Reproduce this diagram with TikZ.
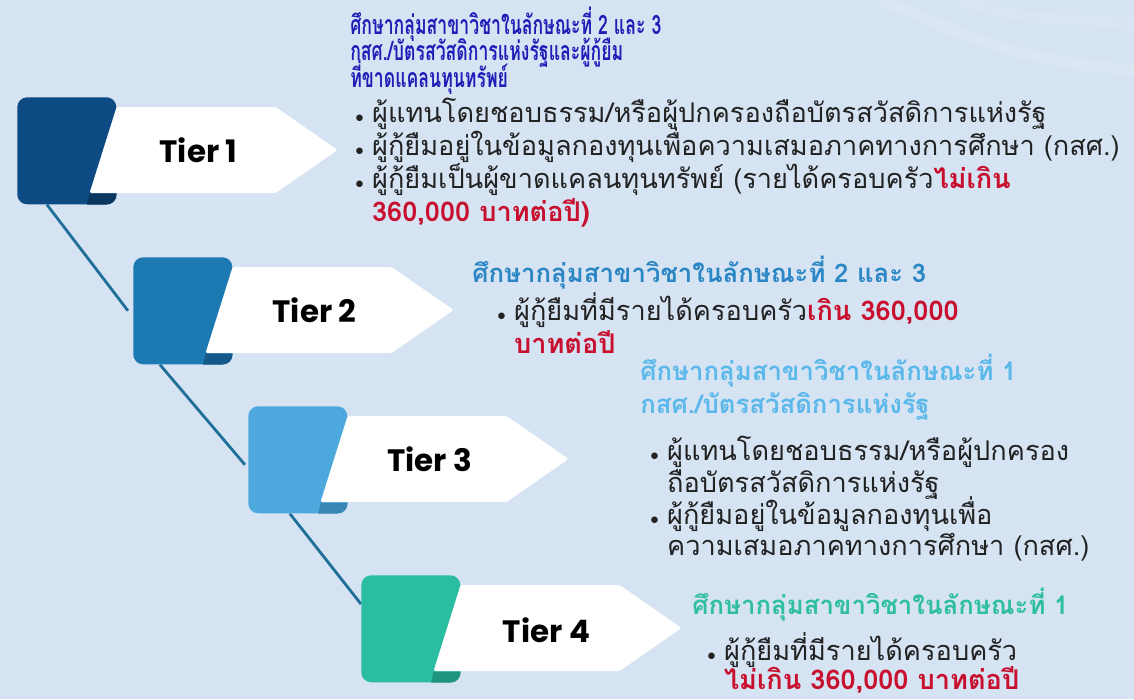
\documentclass[tikz,border=0pt]{standalone}
\usepackage{fontspec}
\usetikzlibrary{calc,positioning}

\newfontfamily\thaifont[Script=Thai]{Loma}
\newfontfamily\thaicond[Script=Thai,FakeStretch=0.66]{Loma}
\newfontfamily\tierfont{Poppins}

\definecolor{bgblue}{HTML}{D5E3F3}
\definecolor{sqA}{HTML}{0E4A84}
\definecolor{sqAdk}{HTML}{0A365F}
\definecolor{sqB}{HTML}{1C79B2}
\definecolor{sqBdk}{HTML}{15598A}
\definecolor{sqC}{HTML}{4DA8DE}
\definecolor{sqCdk}{HTML}{3A87B6}
\definecolor{sqD}{HTML}{2BBDA2}
\definecolor{sqDdk}{HTML}{1E9580}
\definecolor{linecol}{HTML}{1F6F99}
\definecolor{headA}{HTML}{1F1FB8}
\definecolor{headB}{HTML}{2B86C4}
\definecolor{headC}{HTML}{5BB8EA}
\definecolor{headD}{HTML}{2FBF9F}
\definecolor{redT}{HTML}{C8102E}
\definecolor{bodyT}{HTML}{222222}

\newcommand\bul{\makebox[0.62em][l]{\fontsize{12}{12}\selectfont$\bullet$}}
\newcommand\hang{\hspace*{0.62em}}
\newcommand\hl[1]{\textcolor{redT}{\bfseries #1}}
\newcommand\tightlines{\setlength{\lineskiplimit}{-30pt}}

\pgfdeclarelayer{bg}
\pgfdeclarelayer{lines}
\pgfsetlayers{bg,lines,main}

\tikzset{
  tiersq/.style={rounded corners=7pt, minimum width=2.475cm, minimum height=2.675cm,
    inner sep=0, anchor=north west},
  tierlabel/.style={font=\tierfont\bfseries\fontsize{22}{26}\selectfont, text=black},
  heading/.style={anchor=north west, align=left, inner sep=0,
    font=\thaifont\bfseries\fontsize{18.3}{23.4}\selectfont\tightlines},
  headcond/.style={anchor=north west, align=left, inner sep=0,
    font=\thaicond\bfseries\fontsize{19}{18.6}\selectfont\tightlines},
  bodytext/.style={anchor=north west, align=left, inner sep=0, text=bodyT,
    font=\thaifont\fontsize{19.3}{23.4}\selectfont\tightlines},
  joint/.style={draw=linecol, line width=2pt},
}

\begin{document}
\begin{tikzpicture}[x=0.025cm, y=-0.025cm]
    \useasboundingbox (0,0) rectangle (1134,699);

    % background
    \begin{pgfonlayer}{bg}
    \fill[bgblue] (0,0) rectangle (1134,699);
    \draw[white, opacity=0.12, line width=8pt] (880,0) .. controls (960,30) and (1000,60) .. (1134,70);
    \draw[white, opacity=0.1, line width=8pt] (960,0) .. controls (1030,25) and (1060,15) .. (1134,25);
    \end{pgfonlayer}

    % tier 1
    \node[tiersq, fill=sqA] (sq1) at (17,97) {};
    \fill[sqAdk] ($(sq1.south east)+(-27,-11)$) -- ++(27,0) -- ++(0,1)
        arc[start angle=0, end angle=90, radius=10] -- ++(-19.5,0) -- cycle;
    \fill[white, rounded corners=1pt] ($(sq1.north east)+(0,10)$) -- ++(159,0) -- ++(62,43)
        -- ++(-62,43) -- ++(-186,0) -- cycle;
    \node[tierlabel] (t1) at ($(sq1.north east)+(82,53)$) {Tier 1};

    % tier 2
    \node[tiersq, fill=sqB] (sq2) at (133,257) {};
    \fill[sqBdk] ($(sq2.south east)+(-27,-11)$) -- ++(27,0) -- ++(0,1)
        arc[start angle=0, end angle=90, radius=10] -- ++(-19.5,0) -- cycle;
    \fill[white, rounded corners=1pt] ($(sq2.north east)+(0,10)$) -- ++(159,0) -- ++(62,43)
        -- ++(-62,43) -- ++(-186,0) -- cycle;
    \node[tierlabel] (t2) at ($(sq2.north east)+(82,53)$) {Tier 2};

    % tier 3
    \node[tiersq, fill=sqC] (sq3) at (248,406) {};
    \fill[sqCdk] ($(sq3.south east)+(-27,-11)$) -- ++(27,0) -- ++(0,1)
        arc[start angle=0, end angle=90, radius=10] -- ++(-19.5,0) -- cycle;
    \fill[white, rounded corners=1pt] ($(sq3.north east)+(0,10)$) -- ++(159,0) -- ++(62,43)
        -- ++(-62,43) -- ++(-186,0) -- cycle;
    \node[tierlabel] (t3) at ($(sq3.north east)+(82,53)$) {Tier 3};

    % tier 4
    \node[tiersq, fill=sqD] (sq4) at (361,575) {};
    \fill[sqDdk] ($(sq4.south east)+(-27,-11)$) -- ++(27,0) -- ++(0,1)
        arc[start angle=0, end angle=90, radius=10] -- ++(-19.5,0) -- cycle;
    \fill[white, rounded corners=1pt] ($(sq4.north east)+(0,10)$) -- ++(159,0) -- ++(62,43)
        -- ++(-62,43) -- ++(-186,0) -- cycle;
    \node[tierlabel] (t4) at ($(sq4.north east)+(86,55)$) {Tier 4};

    % joints
    \begin{pgfonlayer}{lines}
    \draw[joint] ($(sq1.south west)!0.3!(sq1.south east)$) -- ($(sq2.west)+(-5,0)$);
    \draw[joint] ($(sq2.south west)!0.27!(sq2.south east)$) -- ($(sq3.west)+(-3,5)$);
    \draw[joint] ($(sq3.south west)!0.42!(sq3.south east)$) -- ($(sq4.north west)!0.27!(sq4.south west)$);
    \end{pgfonlayer}

    % texts tier 1
    \node[headcond, text=headA] (h1) at (350,7)
        {ศึกษากลุ่มสาขาวิชาในลักษณะที่ 2 และ 3\\กสศ./บัตรสวัสดิการแห่งรัฐและผู้กู้ยืม\\ที่ขาดแคลนทุนทรัพย์};
    \node[bodytext] (b1) at (355,98)
        {\bul ผู้แทนโดยชอบธรรม/หรือผู้ปกครองถือบัตรสวัสดิการแห่งรัฐ\\
         \bul ผู้กู้ยืมอยู่ในข้อมูลกองทุนเพื่อความเสมอภาคทางการศึกษา (กสศ.)\\
         \bul ผู้กู้ยืมเป็นผู้ขาดแคลนทุนทรัพย์ (รายได้ครอบครัว\hl{ไม่เกิน}\\
         \hang\hl{360,000 บาทต่อปี)}};

    % texts tier 2
    \node[heading, text=headB] (h2) at (472,256) {ศึกษากลุ่มสาขาวิชาในลักษณะที่ 2 และ 3};
    \node[bodytext] (b2) at (497,292)
        {\bul ผู้กู้ยืมที่มีรายได้ครอบครัว\hl{เกิน 360,000}\\
         \hang\hl{บาทต่อปี}};

    % texts tier 3
    \node[heading, text=headC] (h3) at (640,354)
        {ศึกษากลุ่มสาขาวิชาในลักษณะที่ 1\\กสศ./บัตรสวัสดิการแห่งรัฐ};
    \node[bodytext, font=\thaifont\fontsize{19.3}{22.5}\selectfont\tightlines] (b3) at (650,436)
        {\bul ผู้แทนโดยชอบธรรม/หรือผู้ปกครอง\\
         \hang ถือบัตรสวัสดิการแห่งรัฐ\\
         \bul ผู้กู้ยืมอยู่ในข้อมูลกองทุนเพื่อ\\
         \hang ความเสมอภาคทางการศึกษา (กสศ.)};

    % texts tier 4
    \node[heading, text=headD] (h4) at (692,588) {ศึกษากลุ่มสาขาวิชาในลักษณะที่ 1};
    \node[bodytext, font=\thaifont\fontsize{19.3}{21}\selectfont\tightlines] (b4) at (707,632)
        {\bul ผู้กู้ยืมที่มีรายได้ครอบครัว\\
         \hang\hl{ไม่เกิน 360,000 บาทต่อปี}};

\end{tikzpicture}
\end{document}
